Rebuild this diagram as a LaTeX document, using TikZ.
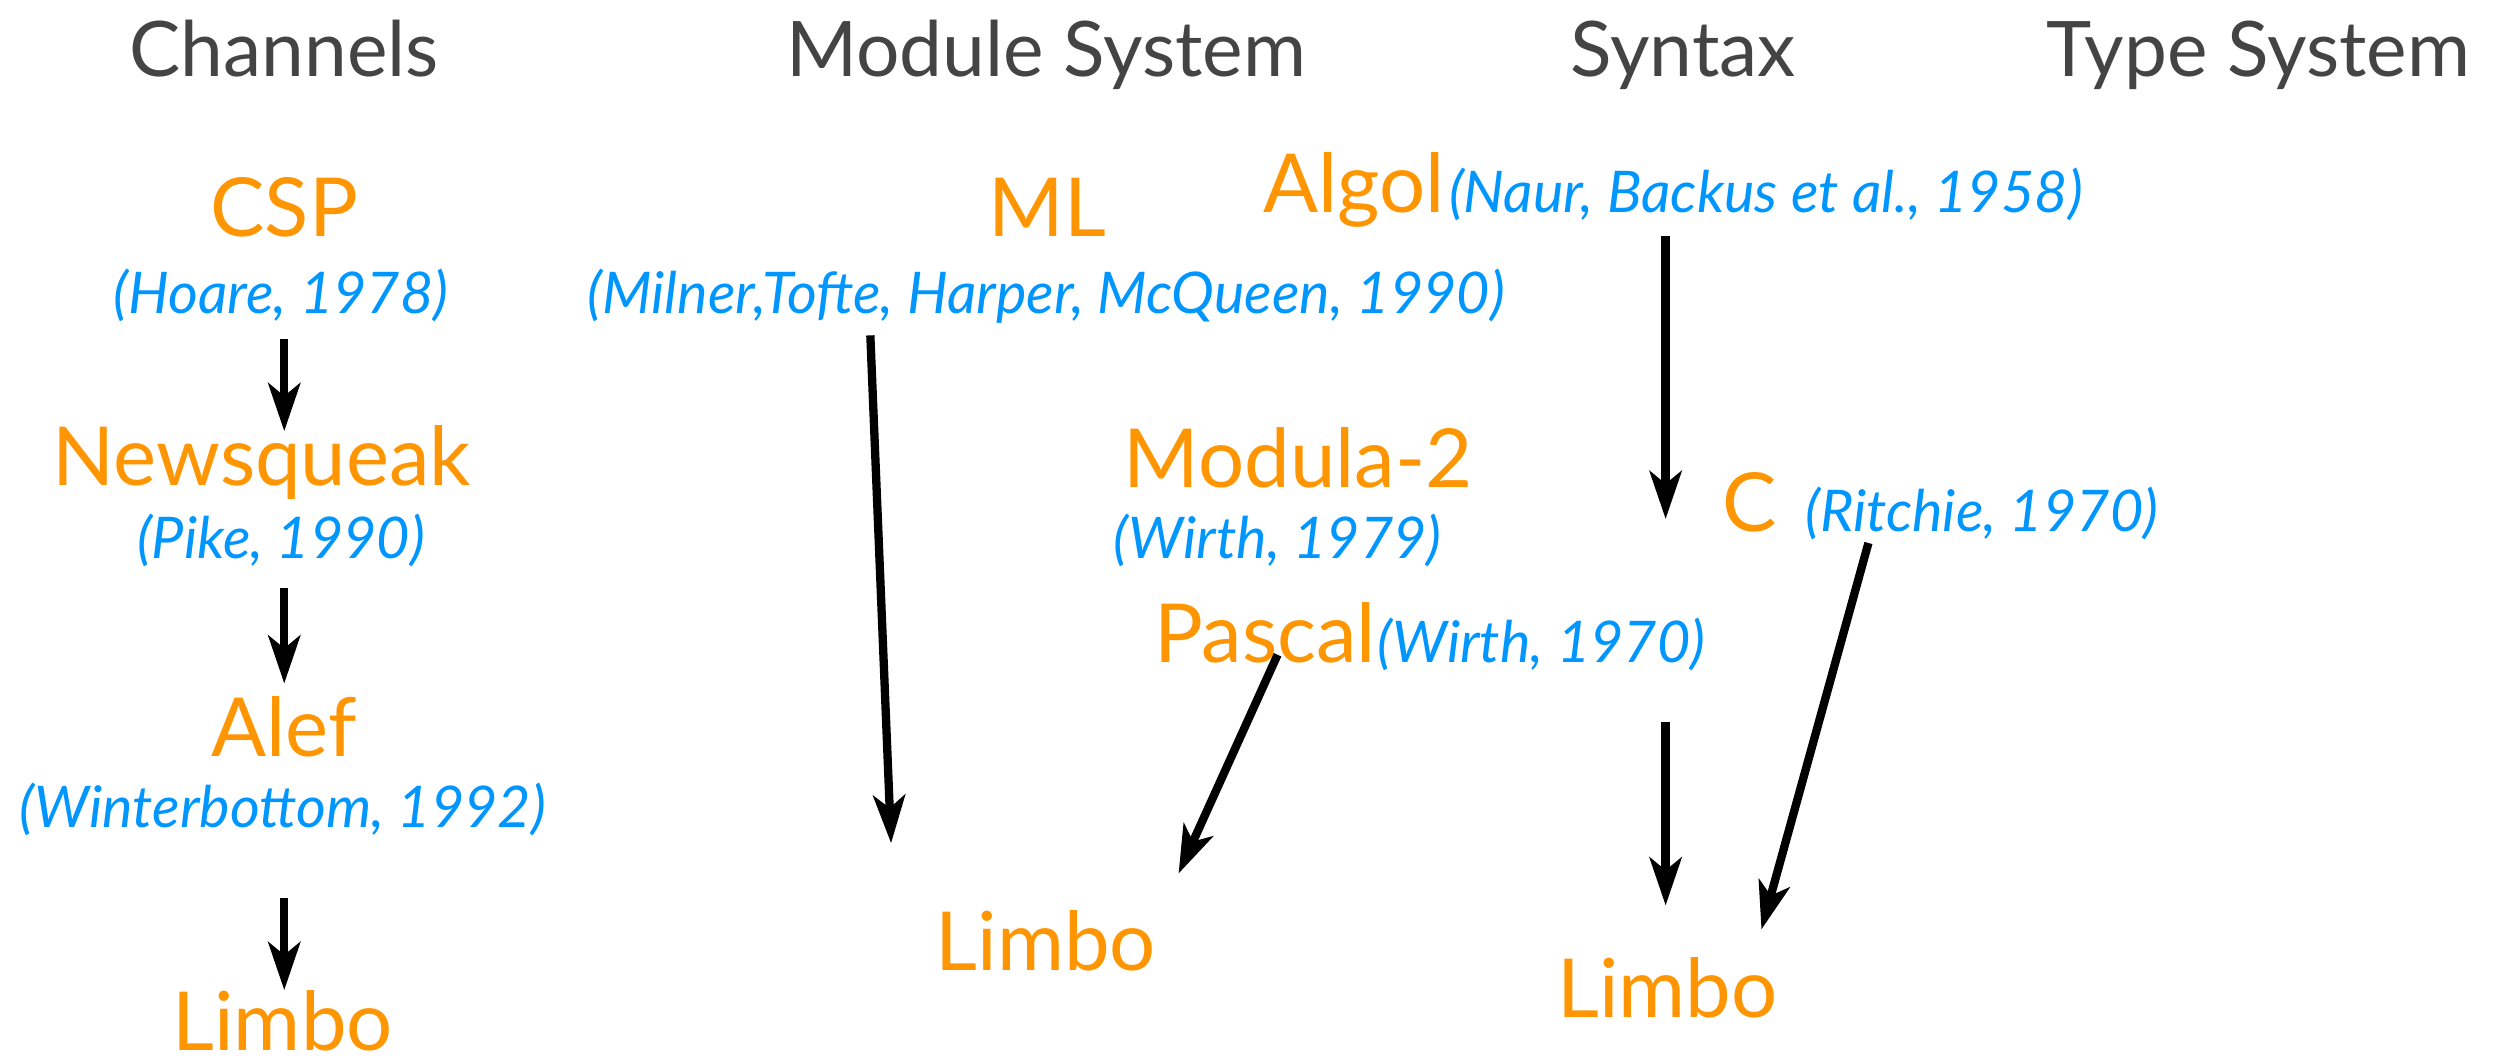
\documentclass[tikz,border=0pt]{standalone}
\usepackage{fontspec}
\setmainfont{Lato}
\usetikzlibrary{arrows.meta}
\definecolor{hgray}{RGB}{68,68,68}
\definecolor{lorange}{RGB}{255,149,0}
\definecolor{rblue}{RGB}{0,150,255}
\tikzset{
  heading/.style={inner sep=0pt, anchor=base, text=hgray, font=\fontsize{24}{28}\selectfont},
  lang/.style={inner sep=0pt, anchor=base, text=lorange, font=\fontsize{25.5}{30}\selectfont},
  ref/.style={inner sep=0pt, anchor=base, text=rblue, font=\fontsize{18}{21}\selectfont\itshape},
  flow/.style={line width=2.6pt, -{Stealth[length=15pt,width=10pt,inset=4pt]}}
}
\begin{document}
\begin{tikzpicture}[x=0.5pt,y=-0.5pt]
\useasboundingbox (0,0) rectangle (1568,666);
% headings
\node[heading] (h1) at (178,48) {Channels};
\node[heading] (h2) at (655,48) {Module System};
\node[heading] (h3) at (1054,48) {Syntax};
\node[heading] (h4) at (1414,48) {Type System};
% channels column
\node[lang] (csp) at (178,148) {CSP};
\node[ref] (cspr) at (176,196) {(Hoare, 1978)};
\node[lang] (news) at (164,304) {Newsqueak};
\node[ref] (newsr) at (176,350) {(Pike, 1990)};
\node[lang] (alef) at (178,474) {Alef};
\node[ref] (alefr) at (177,518) {(Winterbottom, 1992)};
\node[lang] (limbo1) at (177,658) {Limbo};
% module system column
\node[lang] (ml) at (656,148) {ML};
\node[ref] (mlr) at (655,196) {(Milner,Tofte, Harper, McQueen, 1990)};
\node[lang] (mod) at (813,305) {Modula-2};
\node[ref] (modr) at (800,350) {(Wirth, 1979)};
\node[lang, anchor=base east] (pascal) at (862,415) {Pascal};
\node[ref, anchor=base west] (pascalr) at (862,415) {(Wirth, 1970)};
\node[lang] (limbo2) at (655,608) {Limbo};
% syntax column
\node[lang, anchor=base east] (algol) at (905,133) {Algol};
\node[ref, anchor=base west] (algolr) at (907,133) {(Naur, Backus et al., 1958)};
\node[lang, anchor=base east] (c) at (1113,333) {C};
\node[ref, anchor=base west] (cr) at (1130,333) {(Ritchie, 1970)};
\node[lang] (limbo3) at (1044,637) {Limbo};
% arrow end points
\coordinate (a1s) at (178,212); \coordinate (a1e) at (178,270);
\coordinate (a2s) at (178,368); \coordinate (a2e) at (178,428);
\coordinate (a3s) at (178,562); \coordinate (a3e) at (178,620);
\coordinate (a4s) at (545,210); \coordinate (a4e) at (558,528);
\coordinate (a5s) at (800,410); \coordinate (a5e) at (738,547);
\coordinate (a6s) at (1043,148); \coordinate (a6e) at (1043,325);
\coordinate (a7s) at (1043,452); \coordinate (a7e) at (1043,567);
\coordinate (a8s) at (1170,340); \coordinate (a8e) at (1103,582);
\draw[flow] (a1s) -- (a1e);
\draw[flow] (a2s) -- (a2e);
\draw[flow] (a3s) -- (a3e);
\draw[flow] (a4s) -- (a4e);
\draw[flow] (a5s) -- (a5e);
\draw[flow] (a6s) -- (a6e);
\draw[flow] (a7s) -- (a7e);
\draw[flow] (a8s) -- (a8e);
\end{tikzpicture}
\end{document}
